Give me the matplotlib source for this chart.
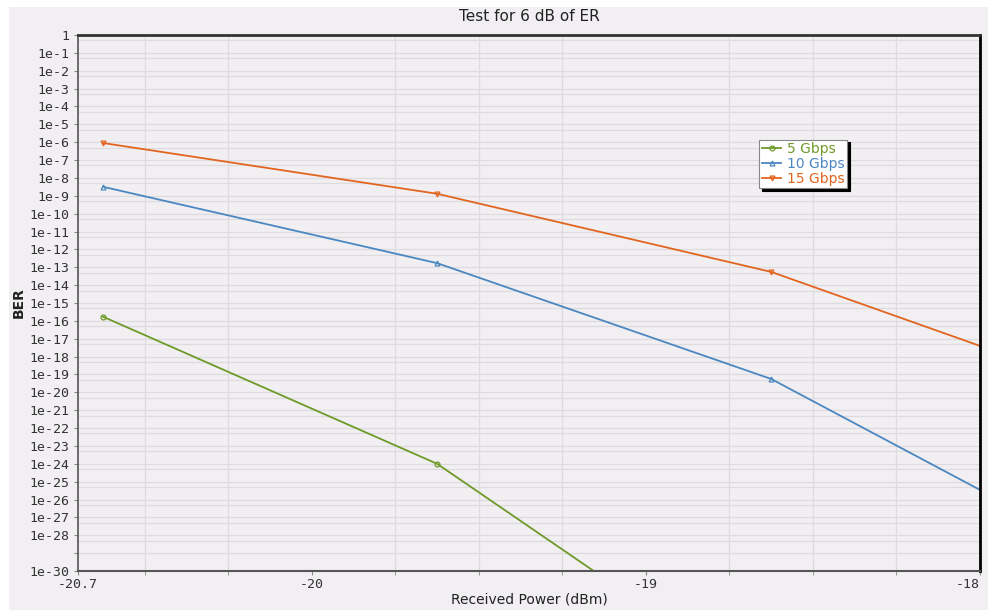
import numpy as np
import matplotlib
matplotlib.use("Agg")
import matplotlib.pyplot as plt
from matplotlib.ticker import FixedLocator, FuncFormatter
from matplotlib.patches import Rectangle

# received power (dBm) and BER
power = [-20.625, -19.625, -18.625, -17.625]
ber_5g = [1.7e-16, 1.0e-24, 1.6e-37]
ber_10g = [3.2e-9, 1.7e-13, 5.6e-20, 6.5e-30]
ber_15g = [9.0e-7, 1.3e-9, 5.5e-14, 1.3e-20]

series = [
    ("5 Gbps", ber_5g, "#6f9a2a", "o"),
    ("10 Gbps", ber_10g, "#4b87c0", "^"),
    ("15 Gbps", ber_15g, "#e2651f", "v"),
]

x_labels = [-20.7, -20, -19, -18]
y_decades = list(range(0, 31))
bg = "#f1eff2"

fig = plt.figure(figsize=(9.88, 6.10), dpi=100, facecolor="white")
# gray panel behind everything (small white strip top/left like the original)
fig.patches.append(Rectangle((9 / 988, 0), 1, 1 - 7 / 610, transform=fig.transFigure,
                             facecolor=bg, edgecolor="none", zorder=-10))
ax = fig.add_axes([78 / 988, 1 - 571 / 610, (980 - 78) / 988, (571 - 35) / 610])
ax.set_facecolor(bg)

for label, ber, color, marker in series:
    ax.plot(power[:len(ber)], ber, color=color, lw=1.3, marker=marker, ms=3.5,
            mfc="none", mec=color, mew=0.9, label=label, clip_on=True)

ax.set_yscale("log")
ax.set_xlim(-20.7, -18)
ax.set_ylim(1e-30, 1)

# x ticks
ax.xaxis.set_major_locator(FixedLocator(x_labels))
ax.xaxis.set_major_formatter(FuncFormatter(lambda v, p: f"{v:g}"))
ax.xaxis.set_minor_locator(FixedLocator(np.arange(-20.5, -18.0, 0.25)))
ax.grid(True, which="minor", axis="x", color="#dddbde", lw=0.9)
ax.tick_params(axis="x", which="both", direction="out", length=3, pad=2, color="#888888")

# y ticks
def ylab(v, p):
    k = int(round(-np.log10(v)))
    if k == 0:
        return "1"
    if k == 29:
        return ""
    return f"1e-{k}"

ax.yaxis.set_major_locator(FixedLocator([10.0 ** -k for k in y_decades]))
ax.yaxis.set_major_formatter(FuncFormatter(ylab))
ax.yaxis.set_minor_locator(FixedLocator([5 * 10.0 ** -k for k in range(1, 30)]))
ax.yaxis.set_minor_formatter(FuncFormatter(lambda v, p: ""))
ax.grid(True, which="major", axis="y", color="#dddbde", lw=0.9)
ax.grid(True, which="minor", axis="y", color="#dddbde", lw=0.9)
ax.tick_params(axis="y", which="major", direction="out", length=3, pad=3, color="#888888")
ax.tick_params(axis="y", which="minor", length=0)

for lab in ax.get_xticklabels() + ax.get_yticklabels():
    lab.set_fontfamily("DejaVu Sans Mono")
    lab.set_fontsize(9.5)
    lab.set_color("#333333")
ax.get_xticklabels()[-1].set_horizontalalignment("right")

ax.spines["left"].set_color("#555555")
ax.spines["left"].set_linewidth(1.2)
ax.spines["bottom"].set_color("#555555")
ax.spines["bottom"].set_linewidth(1.5)
ax.spines["top"].set_color("#333333")
ax.spines["top"].set_linewidth(2)
ax.spines["right"].set_color("black")
ax.spines["right"].set_linewidth(2)

ax.set_title("Test for 6 dB of ER", fontsize=11, color="#222222", pad=10)
ax.set_xlabel("Received Power (dBm)", fontsize=10, color="#222222", labelpad=1)
ax.set_ylabel("BER", fontsize=10, color="#222222", fontweight="bold", labelpad=3)

leg = ax.legend(loc="upper left", bbox_to_anchor=(0.755, 0.805), fontsize=10,
                labelcolor="linecolor", handlelength=1.4, handletextpad=0.4,
                borderpad=0.2, borderaxespad=0, labelspacing=0.05, fancybox=False,
                shadow={"color": "black", "alpha": 1.0}, framealpha=1)
leg.get_frame().set_edgecolor("#888888")
leg.get_frame().set_linewidth(0.8)

fig.savefig("out.png", dpi=100, facecolor="white")
